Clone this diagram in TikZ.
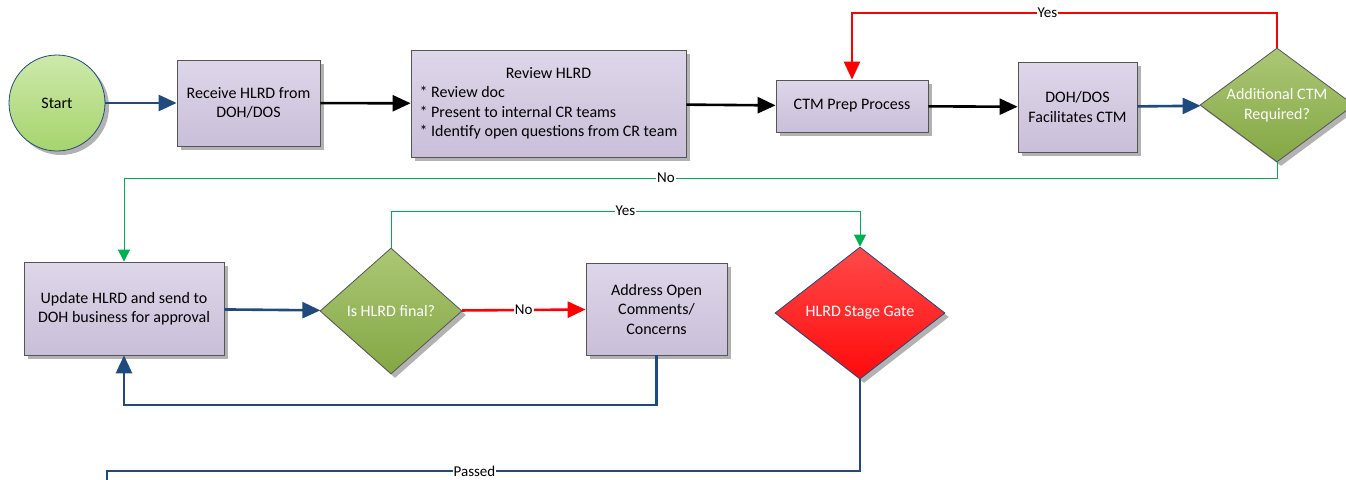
\documentclass[tikz,border=0pt]{standalone}
\usepackage{fontspec}
\setmainfont{Carlito}
\usetikzlibrary{arrows.meta,positioning,shapes.geometric,shadows}

\definecolor{navyline}{HTML}{1F4A7E}
\definecolor{boxtop}{HTML}{DED6E9}
\definecolor{boxbottom}{HTML}{C9BFD9}
\definecolor{boxborder}{HTML}{555555}
\definecolor{starttop}{HTML}{CDE9AB}
\definecolor{startbottom}{HTML}{A6D46C}
\definecolor{decidetop}{HTML}{ABC775}
\definecolor{decidebottom}{HTML}{84A744}
\definecolor{gatetop}{HTML}{FF4A4A}
\definecolor{gatebottom}{HTML}{FF0A0A}
\definecolor{yesgreen}{HTML}{00B050}

\newcommand{\boxfont}{\fontsize{16}{19.5}\selectfont}
\newcommand{\lblfont}{\fontsize{15}{17}\selectfont}

\begin{document}
\begin{tikzpicture}[x=1pt,y=-1pt]
		\tikzstyle{procbox}=[draw=boxborder,line width=0.8pt,top color=boxtop,bottom color=boxbottom,drop shadow={shadow xshift=4pt,shadow yshift=-4pt,fill=black!60},font=\boxfont,align=center,inner sep=2pt]
		\tikzstyle{startnode}=[circle,draw=navyline,line width=0.8pt,top color=starttop,bottom color=startbottom,drop shadow={shadow xshift=4pt,shadow yshift=-4pt,fill=black!60},font=\boxfont,minimum size=96pt,inner sep=0pt]
		\tikzstyle{decide}=[diamond,draw=boxborder,line width=0.8pt,top color=decidetop,bottom color=decidebottom,drop shadow={shadow xshift=4pt,shadow yshift=-4pt,fill=black!60},font=\boxfont,text=white,align=center,inner sep=0pt]
		\tikzstyle{gatenode}=[diamond,draw=navyline,line width=0.8pt,top color=gatetop,bottom color=gatebottom,drop shadow={shadow xshift=4pt,shadow yshift=-4pt,fill=black!60},font=\boxfont,text=white,align=center,inner sep=0pt]
		\tikzstyle{bluearrow}=[line width=2.6pt,draw=navyline,arrows={-Triangle[length=18pt,width=16pt]}]
		\tikzstyle{blackarrow}=[line width=2.6pt,draw=black,arrows={-Triangle[length=18pt,width=16pt]}]
		\tikzstyle{redarrow}=[line width=2.6pt,draw=red,arrows={-Triangle[length=18pt,width=16pt]}]
		\tikzstyle{greenarrow}=[line width=1pt,draw=yesgreen,arrows={-Triangle[length=12pt,width=12pt]}]
		\tikzstyle{lbl}=[fill=white,inner sep=1pt,font=\lblfont,text=black]
		
		\useasboundingbox (0,0) rectangle (1346,479);
		
		% top row
		\node[startnode] (start) at (57,103) {Start};
		\node[procbox,minimum width=143pt,minimum height=86pt] (receive) at (248.5,103) {Receive HLRD from\\DOH/DOS};
		\node[procbox,minimum width=275pt,minimum height=107pt] (review) at (548.5,103.5) {\begin{tabular}{@{}l@{}}\multicolumn{1}{@{}c@{}}{Review HLRD}\\{*} Review doc\\{*} Present to internal CR teams\\{*} Identify open questions from CR team\end{tabular}};
		\node[procbox,minimum width=152pt,minimum height=52pt] (ctmprep) at (852,106) {CTM Prep Process};
		\node[procbox,minimum width=119pt,minimum height=90pt] (facilitate) at (1077.5,107) {DOH/DOS\\Facilitates CTM};
		\node[decide,aspect=1.35,minimum width=154pt,minimum height=114pt] (addctm) at (1277,105) {Additional CTM\\Required?};
		
		% bottom row
		\node[procbox,minimum width=200pt,minimum height=93pt] (update) at (124,308.5) {Update HLRD and send to\\DOH business for approval};
		\node[decide,aspect=1.13,minimum width=142pt,minimum height=126pt] (isfinal) at (391,311) {Is HLRD final?};
		\node[procbox,minimum width=141pt,minimum height=92pt] (address) at (656.5,309) {Address Open\\Comments/\\Concerns};
		\node[gatenode,aspect=1.29,minimum width=170pt,minimum height=132pt] (gate) at (860,313) {HLRD Stage Gate};
		\coordinate (passedend) at (107,495);
		
		% connectors
		\draw[bluearrow] (start) -- (receive);
		\draw[blackarrow] (receive) -- (review);
		\draw[blackarrow] (review) -- (ctmprep);
		\draw[blackarrow] (ctmprep) -- (facilitate);
		\draw[bluearrow] (facilitate) -- (addctm);
		\draw[redarrow] (addctm.north) -- (addctm.north |- 0,13) -| node[lbl,pos=0.27] {Yes} (ctmprep.north);
		\draw[greenarrow] (addctm.south) -- (addctm.south |- 0,178) -| node[lbl,pos=0.265] {No} (update.north);
		\draw[bluearrow] (update) -- (isfinal);
		\draw[redarrow] (isfinal) -- node[lbl] {No} (address);
		\draw[bluearrow] (address.south) -- (address.south |- 0,405) -| (update.south);
		\draw[greenarrow] (isfinal.north) -- (isfinal.north |- 0,211) -| node[lbl,pos=0.25] {Yes} (gate.north);
		\draw[line width=2.6pt,draw=navyline] (gate.south) -- (gate.south |- 0,471) -| node[lbl,pos=0.256] {Passed} (passedend);
\end{tikzpicture}
\end{document}
